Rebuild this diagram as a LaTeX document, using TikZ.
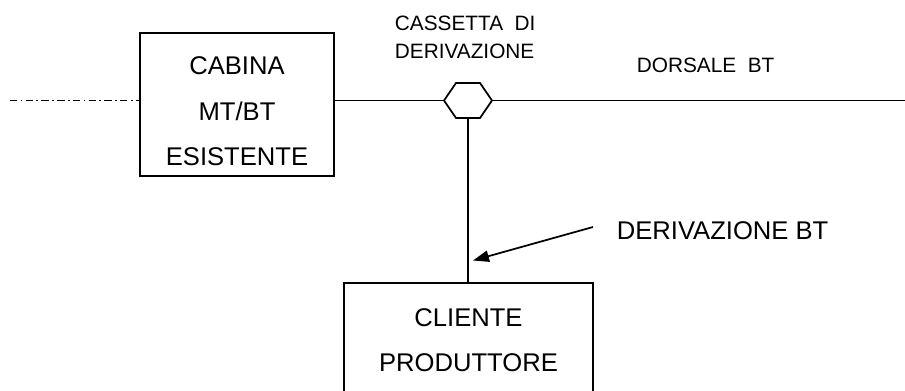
\documentclass[tikz,border=0pt]{standalone}
\usepackage{fontspec}
\setmainfont{Liberation Sans}
\usepackage{tikz}
\usetikzlibrary{shapes.geometric,arrows.meta}

\begin{document}
\begin{tikzpicture}[x=0.75pt,y=0.75pt,yscale=-1,xscale=1,
	line width=1.3pt,
	bigtxt/.style={font=\fontsize{19.2}{34}\selectfont},
	smalltxt/.style={font=\fontsize{15.6}{21}\selectfont},
	boxnode/.style={draw,rectangle,inner sep=0pt,align=center,bigtxt},
	lbl/.style={anchor=base west,inner sep=0pt,align=left}]
	%set diagram size to 905 x 390
	\useasboundingbox (0,0) rectangle (905,390);
	
	%Shape: Rectangle [id:cabina]
	\node [boxnode,minimum width=145.5pt,minimum height=107.25pt,text height=91.8pt] (cabina) at (237,104.5) {CABINA\\MT/BT\\ESISTENTE};
	%Shape: Hexagon [id:cassetta]
	\node [draw,regular polygon,regular polygon sides=6,minimum size=36pt,inner sep=0pt,yscale=-0.842,transform shape] (cas) at (468,100.5) {};
	%Shape: Rectangle [id:cliente]
	\node [boxnode,minimum width=186.75pt,minimum height=85.2pt,text height=47.3pt] (cliente) at (468.5,340) {CLIENTE\\PRODUTTORE};
	
	%Line ends
	\coordinate (mtend) at (10,100.5);
	\coordinate (dend) at (905,100.5);
	\coordinate (arrtail) at (593,227);
	\coordinate (arrtip) at (473,260.5);
	
	%Straight Lines
	\draw [dash pattern={on 5.5pt off 2.5pt on 1.3pt off 2.5pt}] (mtend) -- (cabina.west |- cas.west);
	\draw (cabina.east |- cas.west) -- (cas.west);
	\draw (cas.east) -- (dend);
	\draw (cas.south) -- (cas.south |- cliente.north);
	%Arrow
	\draw [-{Triangle[length=12pt,width=8.5pt]}] (arrtail) -- (arrtip);
	
	% Text Node
	\node [lbl,smalltxt] (cassettatxt) at (394,58) {CASSETTA\ \ DI\\DERIVAZIONE};
	% Text Node
	\node [lbl,smalltxt] (dorsale) at (636,72.3) {DORSALE\ \ BT};
	% Text Node
	\node [lbl,bigtxt] (derbt) at (616,239.3) {DERIVAZIONE BT};
	
\end{tikzpicture}
\end{document}
